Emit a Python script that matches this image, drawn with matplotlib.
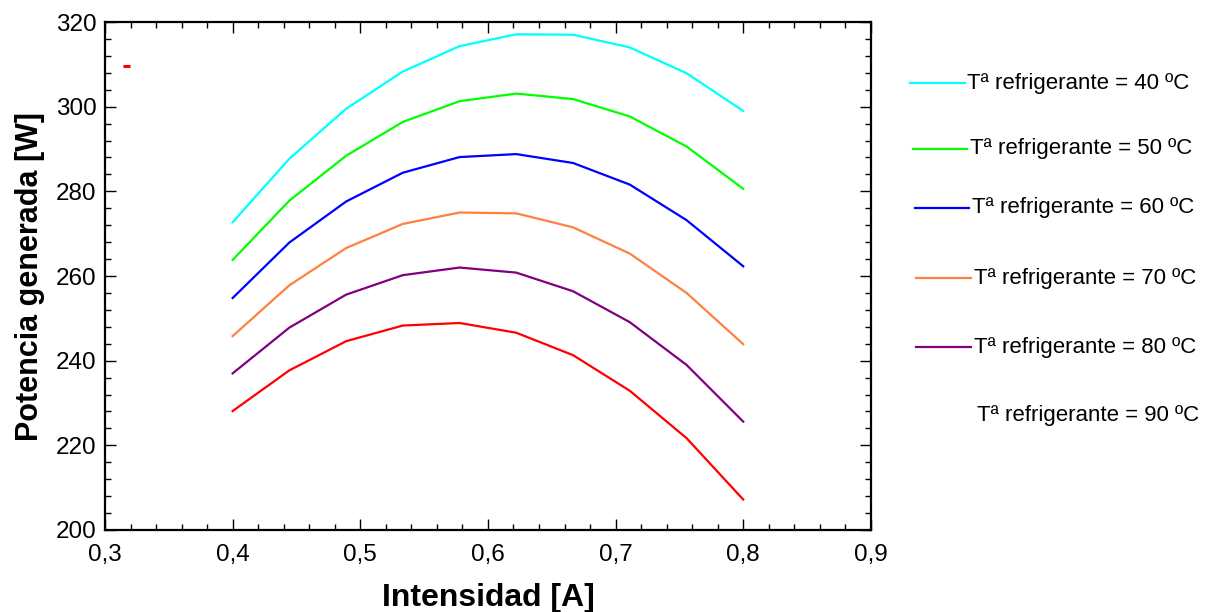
import matplotlib
matplotlib.use('Agg')
import matplotlib.pyplot as plt
from matplotlib.lines import Line2D
from matplotlib.ticker import MultipleLocator

plt.rcParams['font.family'] = ['Liberation Sans', 'DejaVu Sans']

# ============================================================
# DATA
# ============================================================
intensidad = [0.4, 0.4444, 0.4889, 0.5333, 0.5778, 0.6222, 0.6667, 0.7111, 0.7556, 0.8]

temperaturas = ['40', '50', '60', '70', '80', '90']

p_40 = [272.7, 287.7, 299.5, 308.3, 314.3, 317.1, 317.0, 314.0, 307.9, 299.0]
p_50 = [263.8, 277.8, 288.4, 296.4, 301.3, 303.1, 301.8, 297.7, 290.6, 280.6]
p_60 = [254.8, 267.9, 277.6, 284.4, 288.1, 288.8, 286.7, 281.6, 273.2, 262.3]
p_70 = [245.8, 257.8, 266.6, 272.3, 275.0, 274.8, 271.5, 265.3, 256.0, 243.9]
p_80 = [237.0, 247.8, 255.6, 260.2, 262.0, 260.8, 256.4, 249.1, 239.0, 225.6]
p_90 = [228.1, 237.7, 244.6, 248.3, 248.9, 246.6, 241.3, 232.9, 221.7, 207.2]

series = [p_40, p_50, p_60, p_70, p_80, p_90]
colors = ['#00FFFF', '#00FF00', '#0000FF', '#FF8040', '#800080', '#FF0000']

x_ticks = [0.3, 0.4, 0.5, 0.6, 0.7, 0.8, 0.9]
x_ticklabels = ['0,3', '0,4', '0,5', '0,6', '0,7', '0,8', '0,9']
y_ticks = [200, 220, 240, 260, 280, 300, 320]

# stray legend stub of the 90 ºC series left inside the plot
stub_x = [0.3142, 0.3194]
stub_y = [309.5, 309.5]

# ============================================================
# FIGURE
# ============================================================
fig = plt.figure(figsize=(12.18, 6.12), dpi=100)
ax = fig.add_axes([0.0862, 0.134, 0.6288, 0.830])

for vals, color in zip(series, colors):
    ax.plot(intensidad, vals, color=color, linewidth=1.6)

ax.plot(stub_x, stub_y, color=colors[-1], linewidth=2.2, solid_capstyle='butt')

ax.set_xlim(0.3, 0.9)
ax.set_ylim(200, 320)
ax.set_xticks(x_ticks)
ax.set_xticklabels(x_ticklabels)
ax.set_yticks(y_ticks)
ax.xaxis.set_minor_locator(MultipleLocator(0.02))
ax.yaxis.set_minor_locator(MultipleLocator(4))
ax.tick_params(which='both', direction='in', top=True, right=True, labelsize=17.5, width=1.0)
ax.tick_params(which='major', length=8)
ax.tick_params(axis='x', which='major', pad=10)
ax.tick_params(axis='y', which='major', pad=6)
ax.tick_params(which='minor', length=4)
for sp in ax.spines.values():
    sp.set_linewidth(1.6)

ax.set_xlabel('Intensidad [A]', fontsize=23, fontweight='bold', labelpad=12)
ax.set_ylabel('Potencia generada [W]', fontsize=22, fontweight='bold', labelpad=8)

# ============================================================
# LEGEND (hand placed, outside the axes)
# ============================================================
leg_y = [83, 148.5, 208, 278.5, 347, 415]
leg_x0 = [910, 913, 915, 916, 916, 916]
leg_x1 = [965, 967, 969, 971, 971, 971]
leg_tx = [967, 970, 972, 974, 974, 977]
W, H = 1218.0, 612.0
for i, t in enumerate(temperaturas):
    yf = 1 - leg_y[i] / H
    if i < 5:
        fig.add_artist(Line2D([leg_x0[i] / W, leg_x1[i] / W], [yf, yf],
                              color=colors[i], linewidth=1.6, transform=fig.transFigure))
    fig.text(leg_tx[i] / W, yf, f'Tª refrigerante = {t} ºC', fontsize=16,
             ha='left', va='center')

fig.savefig('out.png', dpi=100)
